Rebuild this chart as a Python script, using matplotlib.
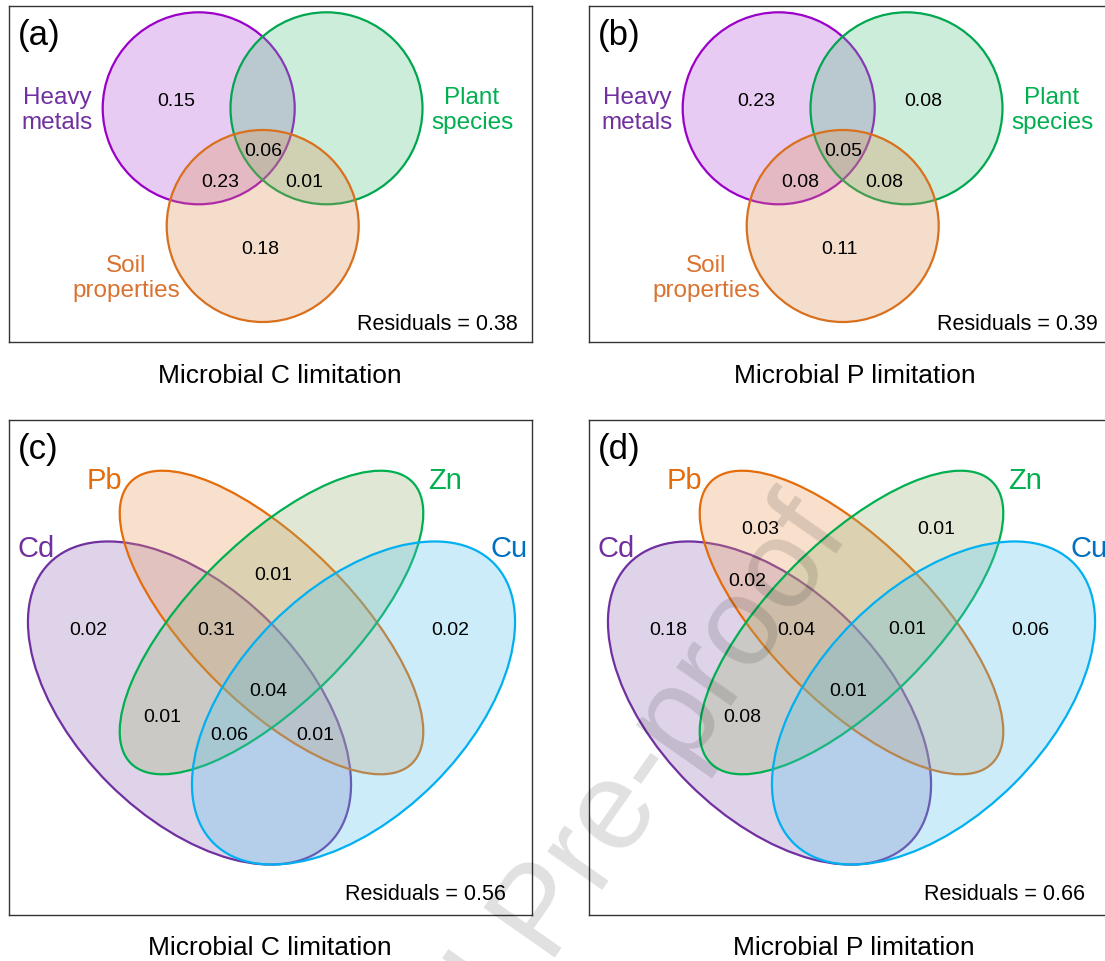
import matplotlib.pyplot as plt
from matplotlib.colors import to_rgb
from matplotlib.patches import Circle, Ellipse

plt.rcParams['font.family'] = ['Liberation Sans', 'DejaVu Sans']

# ── DATA ──────────────────────────────────────────────────────────────────
PANELS = ["(a)", "(b)", "(c)", "(d)"]
TITLES = ["Microbial C limitation", "Microbial P limitation",
          "Microbial C limitation", "Microbial P limitation"]
RESIDUALS = [0.38, 0.39, 0.56, 0.66]

# three explanatory groups (H, P, S)
TRIO = ["Heavy metals", "Plant species", "Soil properties"]
C_TRIO = {"H": 0.15, "HPS": 0.06, "HS": 0.23, "PS": 0.01, "S": 0.18}
P_TRIO = {"H": 0.23, "P": 0.08, "HPS": 0.05, "HS": 0.08, "PS": 0.08, "S": 0.11}

# four heavy metals (A=Cd, B=Pb, C=Zn, D=Cu)
QUAD = ["Cd", "Pb", "Zn", "Cu"]
C_QUAD = {"BC": 0.01, "A": 0.02, "ABC": 0.31, "D": 0.02, "ABCD": 0.04,
          "AC": 0.01, "ACD": 0.06, "ABD": 0.01}
P_QUAD = {"B": 0.03, "C": 0.01, "AB": 0.02, "A": 0.18, "ABC": 0.04,
          "BCD": 0.01, "D": 0.06, "ABCD": 0.01, "AC": 0.08}

# ── LAYOUT (pixels inside each panel box) ────────────────────────────────
W, H = 1105, 962
BOXES = [(9, 7, 523, 336), (589, 7, 523, 336),
         (9, 421, 523, 495), (589, 421, 523, 495)]
TITLE_XY = [(280, 376), (855, 376), (270, 948), (854, 948)]
DY = 2  # text baseline nudge

TRIO_CIRCLES = [(189.7, 102.3), (317.5, 102.3), (253.7, 220.0)]
TRIO_R = 96
TRIO_EDGE = ["#9B00C8", "#00A650", "#D8701E"]
TRIO_FILL = ["#B255D4", "#55C684", "#DE9158"]
TRIO_TEXT = ["#7030A0", "#00B050", "#DA7230"]
TRIO_LABEL_XY = [(48, 101.5), (463, 101.5), (117, 269.5)]
TRIO_REGION_XY = {"H": (167.5, 93), "P": (334, 93), "HPS": (254, 142),
                  "HS": (211.5, 173.5), "PS": (295, 173.5), "S": (251, 240)}

# (cx, cy, width, height, angle) for Cd, Pb, Zn, Cu
QUAD_ELLIPSES = [(180.5, 283, 396, 228, 45), (262.5, 202.5, 398, 161, 45),
                 (262.5, 202.5, 398, 161, -45), (344.5, 283, 396, 228, -45)]
QUAD_EDGE = ["#7030A0", "#E46C0A", "#00B050", "#00B0F0"]
QUAD_FILL = ["#9870B9", "#EB9B5C", "#9EB276", "#55C3EB"]
QUAD_TEXT = ["#7030A0", "#E46C0A", "#00B050", "#0070C0"]
QUAD_LABEL_XY = [(27, 126), (95, 58), (436, 58), (500, 126)]
QUAD_REGION_XY = {"A": (79.3, 207.5), "D": (441, 207.5), "B": (171.6, 107),
                  "C": (347, 107), "BC": (264, 152), "AB": (158, 158),
                  "ABC": (207.4, 207.5), "BCD": (318, 207), "ABCD": (259.5, 269),
                  "AC": (153.7, 295), "ACD": (220, 312), "ABD": (306, 312)}

fig = plt.figure(figsize=(W / 100, H / 100), dpi=100)


def make_panel(x0, y0, w, h):
    ax = fig.add_axes([x0 / W, 1 - (y0 + h) / H, w / W, h / H])
    ax.set_xlim(0, w)
    ax.set_ylim(h, 0)
    ax.set_xticks([])
    ax.set_yticks([])
    for s in ax.spines.values():
        s.set_color("0.2")
        s.set_linewidth(1.0)
    return ax


def trio_venn(ax, values):
    for (cx, cy), fc, ec in zip(TRIO_CIRCLES, TRIO_FILL, TRIO_EDGE):
        ax.add_patch(Circle((cx, cy), TRIO_R, facecolor=(*to_rgb(fc), 0.3),
                            edgecolor=ec, lw=1.6))
    for name, (lx, ly), col in zip(TRIO, TRIO_LABEL_XY, TRIO_TEXT):
        ax.text(lx, ly + DY, name.replace(" ", "\n"), color=col, fontsize=17.5,
                ha="center", va="center", linespacing=1.15)
    for key, v in values.items():
        x, y = TRIO_REGION_XY[key]
        ax.text(x, y + DY, f"{v:.2f}", fontsize=14, ha="center", va="center")


def quad_venn(ax, values):
    for (cx, cy, ew, eh, ang), fc, ec in zip(QUAD_ELLIPSES, QUAD_FILL, QUAD_EDGE):
        ax.add_patch(Ellipse((cx, cy), ew, eh, angle=ang,
                             facecolor=(*to_rgb(fc), 0.3),
                             edgecolor=ec, lw=1.6))
    for name, (lx, ly), col in zip(QUAD, QUAD_LABEL_XY, QUAD_TEXT):
        ax.text(lx, ly + DY, name, color=col, fontsize=21, ha="center", va="center")
    for key, v in values.items():
        x, y = QUAD_REGION_XY[key]
        ax.text(x, y + DY, f"{v:.2f}", fontsize=14, ha="center", va="center")


venn_values = [C_TRIO, P_TRIO, C_QUAD, P_QUAD]
for i, (x0, y0, w, h) in enumerate(BOXES):
    ax = make_panel(x0, y0, w, h)
    if i < 2:
        trio_venn(ax, venn_values[i])
    else:
        quad_venn(ax, venn_values[i])
    ax.text(9, 26 + DY, PANELS[i], fontsize=25, ha="left", va="center")
    res_y = 315.5 if i < 2 else 471
    res_x = 508.5 if i < 2 else 496.5
    ax.text(res_x, res_y + DY, f"Residuals = {RESIDUALS[i]:.2f}", fontsize=15.5,
            ha="right", va="center")
    tx, ty = TITLE_XY[i]
    fig.text(tx / W, 1 - ty / H, TITLES[i], fontsize=19, ha="center", va="center")

# diagonal pre-proof watermark
fig.text(852 / W, 1 - 534 / H, "Journal Pre-proof", rotation=55,
         rotation_mode="anchor", ha="right", va="baseline", fontsize=91,
         color="black", alpha=0.12, zorder=10)

fig.savefig("out.png", dpi=100)
